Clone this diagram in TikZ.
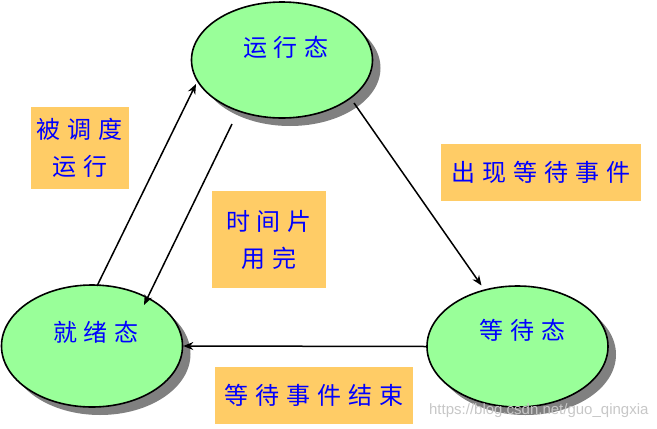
\documentclass[tikz,border=0pt]{standalone}
\usepackage{fontspec}
\newfontfamily\cjk{Noto Sans CJK SC}
\setsansfont{Liberation Sans}
\usetikzlibrary{shapes.geometric,shadows,arrows.meta}
\definecolor{stategreen}{HTML}{99FF99}
\definecolor{labelorange}{HTML}{FFCC66}
\definecolor{textblue}{HTML}{0000FF}
\newcommand{\kg}{\hspace{7pt}}
\tikzset{
  state/.style={ellipse, draw=black, line width=1.6pt, fill=stategreen, inner sep=0pt,
    drop shadow={shadow xshift=8pt, shadow yshift=-8pt, fill=black!50, opacity=1}},
  stext/.style={font=\cjk\fontsize{24}{28}\selectfont, text=textblue},
  lbox/.style={fill=labelorange, inner sep=0pt, align=center,
    font=\cjk\fontsize{24}{37}\selectfont, text=textblue},
  arr/.style={-{Stealth[length=10pt,width=8pt]}, line width=1.5pt, black}
}
\begin{document}
\begin{tikzpicture}[x=1pt,y=-1pt]
\useasboundingbox (0,0) rectangle (657,429);
% states
\node[state, minimum width=181pt, minimum height=116pt] (run) at (282,60) {};
\node[state, minimum width=181pt, minimum height=122pt] (ready) at (92,346) {};
\node[state, minimum width=181pt, minimum height=121pt] (wait) at (517.5,346.5) {};
\node[stext] (runT) at ([shift={(4,-13)}]run.center) {运\kg 行\kg 态};
\node[stext] (readyT) at ([shift={(4,-14)}]ready.center) {就\kg 绪\kg 态};
\node[stext] (waitT) at ([shift={(5,-16)}]wait.center) {等\kg 待\kg 态};
% labels
\node[lbox, minimum width=98pt, minimum height=82pt] (l1) at (80,148) {被\kg 调\kg 度\\运\kg 行};
\node[lbox, minimum width=114pt, minimum height=97pt] (l2) at (269,239.5) {时\kg 间\kg 片\\用\kg 完};
\node[lbox, minimum width=200pt, minimum height=57pt] (l3) at (541,172.5) {出\kg 现\kg 等\kg 待\kg 事\kg 件};
\node[lbox, minimum width=198pt, minimum height=57pt] (l4) at (314,395.5) {等\kg 待\kg 事\kg 件\kg 结\kg 束};
% transitions
\draw[arr] ([shift={(5,-60)}]ready.center) -- ([shift={(-86,24)}]run.center);
\draw[arr] ([shift={(-50,64)}]run.center) -- ([shift={(52,-41)}]ready.center);
\draw[arr] ([shift={(72,43)}]run.center) -- ([shift={(-36,-61)}]wait.center);
\draw[arr] (wait.west) -- (ready.east);
% watermark
\node[font=\sffamily\fontsize{15}{18}\selectfont, text=black!22, anchor=east] (wm) at (652,411) {https://blog.csdn.net/guo\_qingxia};
\end{tikzpicture}
\end{document}
